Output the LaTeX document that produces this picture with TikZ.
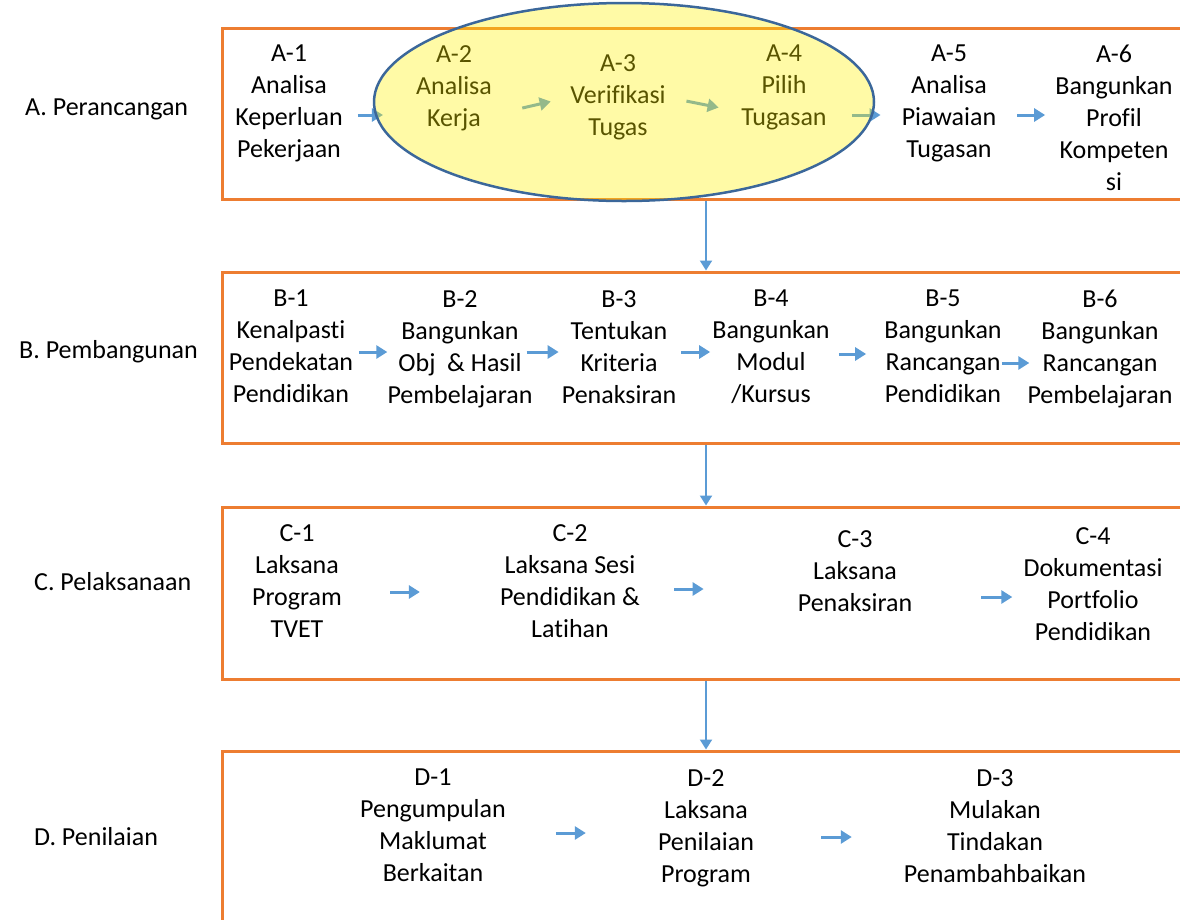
\documentclass[tikz,border=0pt]{standalone}
\usepackage{fontspec}
\setmainfont[Ligatures=NoCommon]{Carlito}
\usetikzlibrary{arrows.meta}
\definecolor{frameorange}{HTML}{ED7D31}
\definecolor{flowblue}{HTML}{5B9BD5}
\definecolor{ringblue}{HTML}{3B679A}

\begin{document}
\begin{tikzpicture}[x=1pt,y=-1pt,
		stage/.style={anchor=base west,inner sep=0,font=\fontsize{26}{32}\selectfont},
		task/.style={anchor=north,inner sep=0,align=center,font=\fontsize{26}{32}\selectfont},
		phase/.style={draw=frameorange,line width=3pt,minimum width=968pt,inner sep=0},
		flow/.style={flowblue,line width=3pt,-{Triangle[length=11pt,width=13pt]}},
		drop/.style={flowblue,line width=2pt,-{Triangle[length=10pt,width=12pt]}}]
		\useasboundingbox (0,0) rectangle (1180,919);
		% Draws the four orange frames, they run off the right edge
		\node [phase,minimum height=171pt] (fa) at (706,113.5) {};
		\node [phase,minimum height=171pt] (fb) at (706,357.5) {};
		\node [phase,minimum height=172pt] (fc) at (706,593) {};
		\node [phase,minimum height=200pt] (fd) at (706,851) {};
		% Prints the names of the stages on the left
		\node [stage] (sa) at (25,115) {A. Perancangan};
		\node [stage] (sb) at (19,358) {B. Pembangunan};
		\node [stage] (sc) at (34,590) {C. Pelaksanaan};
		\node [stage] (sd) at (34,845) {D. Penilaian};
		% Row A
		\node [task] (a1) at (289,45) {A-1\\Analisa\\Keperluan\\Pekerjaan};
		\node [task] (a2) at (454,45) {A-2\\Analisa\\Kerja};
		\node [task] (a3) at (618,54) {A-3\\Verifikasi\\Tugas};
		\node [task] (a4) at (784,45) {A-4\\Pilih\\Tugasan};
		\node [task] (a5) at (949,45) {A-5\\Analisa\\Piawaian\\Tugasan};
		\node [task] (a6) at (1114,45) {A-6\\Bangunkan\\Profil\\Kompeten\\si};
		\draw [flow,shorten <=15pt,shorten >=33pt] (a1.east |- 0,115) -- (a2.west |- 0,115);
		\draw [flow,shorten <=31pt,shorten >=20pt] (a2.east |- 0,115) -- (a3.west |- 0,97);
		\draw [flow,shorten <=21pt,shorten >=23pt] (a3.east |- 0,97) -- (a4.west |- 0,112);
		\draw [flow,shorten <=25pt,shorten >=21pt] (a4.east |- 0,115) -- (a5.west |- 0,115);
		\draw [flow,shorten <=21pt,shorten >=10pt] (a5.east |- 0,115) -- (a6.west |- 0,115);
		% Row B
		\node [task] (b1) at (291,290) {B-1\\Kenalpasti\\Pendekatan\\Pendidikan};
		\node [task] (b2) at (460,290) {B-2\\Bangunkan\\Obj~~\& Hasil\\Pembelajaran};
		\node [task] (b3) at (619,290) {B-3\\Tentukan\\Kriteria\\Penaksiran};
		\node [task] (b4) at (771,290) {B-4\\Bangunkan\\Modul\\/Kursus};
		\node [task] (b5) at (943,290) {B-5\\Bangunkan\\Rancangan\\Pendidikan};
		\node [task] (b6) at (1100,290) {B-6\\Bangunkan\\Rancangan\\Pembelajaran};
		\draw [flow,shorten <=6pt,shorten >=0pt] (b1.east |- 0,352) -- (b2.west |- 0,352);
		\draw [flow,shorten <=-6pt,shorten >=3pt] (b2.east |- 0,352) -- (b3.west |- 0,352);
		\draw [flow,shorten <=5pt,shorten >=2pt] (b3.east |- 0,352) -- (b4.west |- 0,352);
		\draw [flow,shorten <=9pt,shorten >=18pt] (b4.east |- 0,354) -- (b5.west |- 0,354);
		\draw [flow,shorten <=0pt,shorten >=-2pt] (b5.east |- 0,363) -- (b6.west |- 0,363);
		% Row C
		\node [task] (c1) at (297,524) {C-1\\Laksana\\Program\\TVET};
		\node [task] (c2) at (570,524) {C-2\\Laksana Sesi\\Pendidikan \&\\Latihan};
		\node [task] (c3) at (855,530) {C-3\\Laksana\\Penaksiran};
		\node [task] (c4) at (1093,527) {C-4\\Dokumentasi\\Portfolio\\Pendidikan};
		\draw [flow,shorten <=48pt,shorten >=80pt] (c1.east |- 0,592) -- (c2.west |- 0,592);
		\draw [flow,shorten <=34pt,shorten >=94pt] (c2.east |- 0,589) -- (c3.west |- 0,589);
		\draw [flow,shorten <=69pt,shorten >=11pt] (c3.east |- 0,597) -- (c4.west |- 0,597);
		% Row D
		\node [task] (d1) at (433,769) {D-1\\Pengumpulan\\Maklumat\\Berkaitan};
		\node [task] (d2) at (706,769) {D-2\\Laksana\\Penilaian\\Program};
		\node [task] (d3) at (995,769) {D-3\\Mulakan\\Tindakan\\Penambahbaikan};
		\draw [flow,shorten <=50pt,shorten >=72pt] (d1.east |- 0,833) -- (d2.west |- 0,833);
		\draw [flow,shorten <=67pt,shorten >=52pt] (d2.east |- 0,837) -- (d3.west |- 0,837);
		% Arrows from one stage down to the next
		\draw [drop] (fa.south) -- (fb.north);
		\draw [drop] (fb.south) -- (fc.north);
		\draw [drop] (fc.south) -- (fd.north);
		% Yellow ring over A-2 to A-4
		\draw [ringblue,line width=2.5pt,fill=yellow,fill opacity=0.35] (624,102) ellipse [x radius=250,y radius=99];
\end{tikzpicture}
\end{document}
